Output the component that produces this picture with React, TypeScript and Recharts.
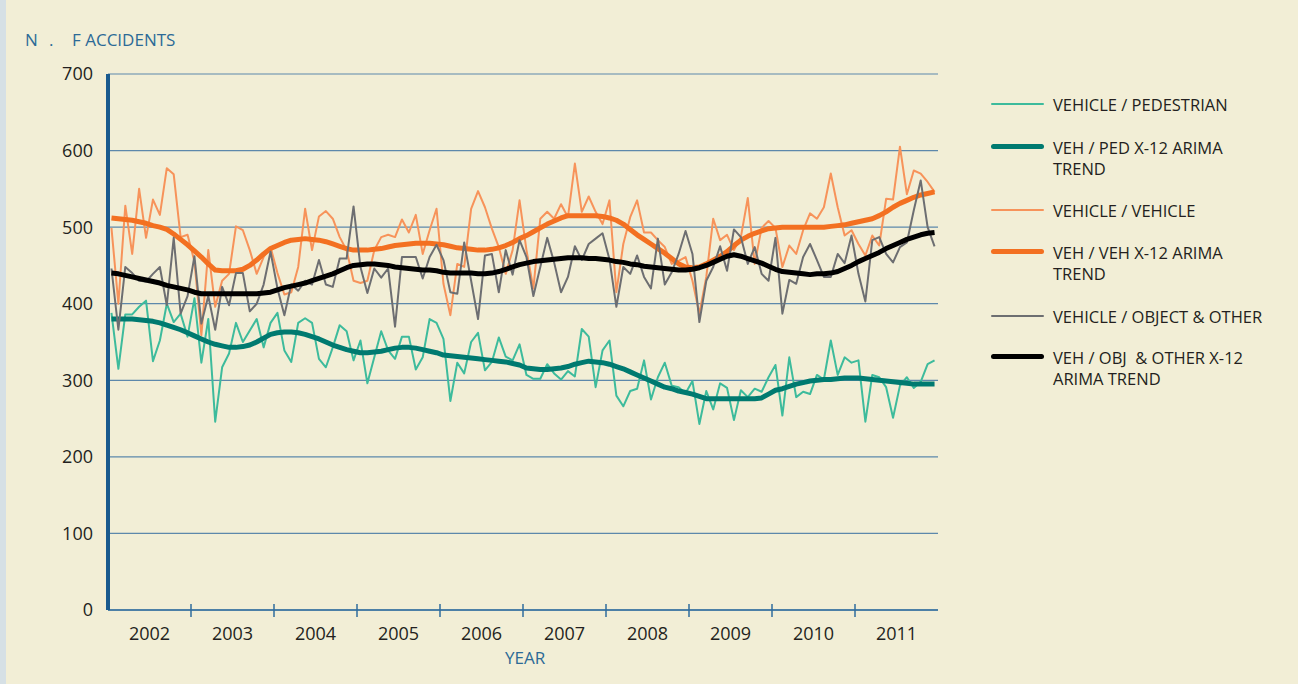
import React from 'react';
import { LineChart, Line, XAxis, YAxis, CartesianGrid } from 'recharts';

// monthly counts, Jan 2002 .. Dec 2011
const YEARS = ['2002', '2003', '2004', '2005', '2006', '2007', '2008', '2009', '2010', '2011'];
const Y_TICKS = [0, 100, 200, 300, 400, 500, 600, 700];

const vehPed = [
    388, 315, 386, 386, 396, 404, 325, 352, 400, 376, 387, 357,
    407, 323, 380, 246, 317, 335, 375, 350, 365, 380, 343, 375,
    388, 339, 324, 375, 381, 375, 328, 317, 343, 372, 364, 326,
    352, 296, 330, 364, 339, 328, 357, 357, 314, 330, 380, 375,
    354, 273, 323, 309, 350, 362, 313, 324, 356, 331, 326, 347,
    307, 302, 302, 321, 309, 301, 312, 305, 367, 357, 291, 339,
    352, 280, 266, 286, 289, 326, 275, 304, 323, 293, 291, 283,
    299, 243, 286, 262, 296, 290, 248, 287, 278, 289, 285, 304,
    320, 254, 330, 278, 285, 282, 307, 301, 352, 307, 330, 323,
    326, 246, 307, 304, 291, 251, 293, 304, 290, 298, 321, 326,
];

const vehPedTrend = [
    380, 380, 380, 380, 379, 378, 377, 375, 372, 369, 366, 362,
    358, 354, 350, 347, 345, 343, 343, 344, 346, 350, 355, 360,
    362, 363, 363, 362, 360, 357, 354, 350, 346, 343, 340, 338,
    336, 336, 337, 338, 340, 342, 343, 343, 342, 340, 338, 336,
    333, 332, 331, 330, 329, 328, 327, 326, 325, 324, 322, 320,
    316, 315, 314, 314, 315, 316, 318, 321, 323, 325, 324, 323,
    321, 318, 315, 311, 307, 303, 299, 295, 291, 289, 286, 284,
    282, 279, 276, 276, 276, 276, 276, 276, 276, 276, 277, 282,
    287, 289, 292, 295, 297, 299, 300, 301, 301, 302, 303, 303,
    303, 302, 301, 300, 299, 298, 297, 296, 295, 295, 295, 295,
];

const vehVeh = [
    499, 400, 528, 465, 550, 486, 536, 516, 577, 569, 487, 490,
    455, 359, 470, 396, 430, 439, 501, 496, 470, 439, 461, 474,
    440, 412, 415, 448, 524, 470, 514, 521, 511, 487, 470, 430,
    427, 430, 470, 487, 490, 487, 510, 493, 516, 465, 496, 524,
    426, 385, 452, 448, 524, 547, 526, 498, 474, 439, 470, 535,
    470, 420, 511, 520, 511, 530, 513, 583, 520, 540, 520, 504,
    535, 415, 478, 513, 535, 493, 493, 483, 474, 452, 456, 461,
    430, 387, 435, 511, 483, 490, 470, 487, 538, 452, 499, 508,
    499, 448, 476, 465, 496, 518, 511, 526, 570, 526, 489, 496,
    478, 463, 489, 476, 537, 536, 605, 543, 574, 570, 559, 546,
];

const vehVehTrend = [
    512, 511, 510, 509, 507, 505, 502, 500, 497, 491, 484, 477,
    469, 461, 452, 444, 443, 443, 443, 445, 450, 457, 465, 472,
    476, 480, 483, 484, 485, 484, 483, 481, 478, 475, 472, 470,
    470, 470, 471, 472, 474, 476, 477, 478, 479, 479, 479, 478,
    477, 475, 473, 472, 471, 470, 470, 471, 473, 476, 480, 485,
    489, 494, 499, 504, 508, 512, 515, 515, 515, 515, 515, 514,
    512, 509, 504, 497, 490, 484, 478, 472, 466, 459, 452, 448,
    447, 448, 452, 457, 462, 468, 476, 483, 488, 492, 495, 498,
    499, 500, 500, 500, 500, 500, 500, 500, 501, 502, 503, 505,
    507, 509, 511, 515, 520, 526, 531, 535, 539, 542, 544, 546,
];

const vehObj = [
    446, 366, 448, 440, 430, 429, 439, 448, 398, 486, 387, 410,
    462, 374, 410, 366, 422, 398, 440, 440, 390, 400, 425, 468,
    420, 385, 425, 417, 430, 425, 457, 425, 422, 459, 459, 527,
    448, 414, 446, 434, 446, 370, 461, 461, 461, 433, 461, 477,
    457, 415, 413, 480, 430, 380, 463, 465, 415, 470, 438, 483,
    461, 410, 448, 486, 454, 415, 435, 475, 457, 478, 485, 492,
    458, 396, 448, 439, 463, 435, 420, 485, 425, 441, 465, 495,
    465, 376, 430, 448, 475, 443, 497, 487, 452, 474, 439, 430,
    486, 387, 431, 426, 461, 478, 457, 435, 435, 465, 453, 489,
    439, 403, 483, 487, 465, 454, 474, 480, 522, 561, 500, 475,
];

const vehObjTrend = [
    440, 439, 437, 435, 433, 431, 429, 427, 424, 422, 420, 418,
    415, 413, 413, 413, 413, 413, 413, 413, 413, 413, 414, 415,
    418, 421, 423, 425, 427, 430, 433, 436, 439, 443, 447, 450,
    451, 452, 452, 451, 450, 448, 447, 446, 445, 444, 444, 443,
    441, 440, 440, 440, 440, 439, 439, 440, 442, 445, 448, 451,
    453, 455, 456, 457, 458, 459, 460, 460, 460, 459, 459, 458,
    457, 455, 454, 452, 451, 449, 448, 447, 446, 445, 444, 444,
    445, 447, 450, 454, 458, 462, 464, 462, 459, 456, 453, 449,
    445, 442, 441, 440, 439, 438, 439, 439, 440, 442, 446, 450,
    455, 459, 463, 467, 472, 476, 480, 484, 487, 490, 492, 493,
];

const SERIES = [
    { key: 'ped', name: 'VEHICLE / PEDESTRIAN', color: '#3dbb9c', width: 2 },
    { key: 'pedTrend', name: 'VEH / PED X-12 ARIMA TREND', color: '#007a70', width: 5 },
    { key: 'veh', name: 'VEHICLE / VEHICLE', color: '#f7935a', width: 2 },
    { key: 'vehTrend', name: 'VEH / VEH X-12 ARIMA TREND', color: '#f37021', width: 5 },
    { key: 'obj', name: 'VEHICLE / OBJECT & OTHER', color: '#6d6e71', width: 2 },
    { key: 'objTrend', name: 'VEH / OBJ  & OTHER X-12 ARIMA TREND', color: '#000000', width: 5 },
];

const data = vehPed.map((v, i) => ({
    m: i,
    ped: v,
    pedTrend: vehPedTrend[i],
    veh: vehVeh[i],
    vehTrend: vehVehTrend[i],
    obj: vehObj[i],
    objTrend: vehObjTrend[i],
}));

const W = 1298;
const H = 684;
const PLOT_LEFT = 108;
const PLOT_RIGHT = 938;
const MONTHS = 120;
const HALF_YEAR = ((PLOT_RIGHT - PLOT_LEFT) / MONTHS) * 6;
const FONT = '"Open Sans", "Noto Sans", sans-serif';
const AXIS_BLUE = '#2f6c9c';
const TITLE_BLUE = '#2c6a96';

const YearTick = ({ x, y, index }: any) => (
    <g>
        <text x={x} y={y + 22} textAnchor="middle" fontSize={18} fontFamily={FONT} fill="#231f20">
            {YEARS[index]}
        </text>
        {index < YEARS.length - 1 && (
            <line x1={x + HALF_YEAR} x2={x + HALF_YEAR} y1={y - 14} y2={y - 1} stroke={AXIS_BLUE} strokeWidth={1.5} />
        )}
    </g>
);

// y of the first text line of each legend entry
const LEGEND_ROWS = [94, 137, 200, 242, 306, 347];

const ChartLegend = () => (
    <div style={{ position: 'absolute', left: 991, top: 0, width: 300, fontFamily: FONT }}>
        {SERIES.map((s, i) => (
            <div key={s.key} style={{ position: 'absolute', left: 0, top: LEGEND_ROWS[i] }}>
                <div style={{
                    position: 'absolute', left: 0, top: 10.5 - s.width / 2 - 1,
                    width: 53, height: s.width, background: s.color, borderRadius: s.width,
                }} />
                <div style={{
                    position: 'absolute', left: 62, top: 0, width: 215,
                    fontSize: 16.5, lineHeight: '21px', color: '#231f20', whiteSpace: 'pre-wrap',
                }}>
                    {s.name}
                </div>
            </div>
        ))}
    </div>
);

const App: React.FC = () => {
    return (
        <div style={{
            position: 'fixed', left: 0, top: 0, width: W, height: H,
            background: '#f2eed6', overflow: 'hidden',
        }}>
            <div style={{ position: 'absolute', left: 0, top: 0, width: 6, height: H, background: '#d6e0e5' }} />
            <div style={{
                position: 'absolute', left: 25, top: 28, height: 24, fontFamily: FONT, fontSize: 17,
                color: TITLE_BLUE, whiteSpace: 'pre',
            }}>
                <span style={{ position: 'absolute', left: 0 }}>N</span>
                <span style={{ position: 'absolute', left: 24 }}>.</span>
                <span style={{ position: 'absolute', left: 47 }}>F ACCIDENTS</span>
            </div>
            <div style={{
                position: 'absolute', left: 505, top: 646, fontFamily: FONT, fontSize: 17,
                color: TITLE_BLUE,
            }}>
                YEAR
            </div>
            <div style={{ position: 'absolute', left: 0, top: 0 }}>
                <LineChart width={W} height={H} data={data} margin={{ top: 74, right: 360, left: 0, bottom: 44 }}>
                    <CartesianGrid horizontal vertical={false} stroke="#5d88ab" strokeWidth={1.2} />
                    <XAxis
                        dataKey="m"
                        type="number"
                        domain={[-0.5, 119.5]}
                        ticks={YEARS.map((_, i) => i * 12 + 5.5)}
                        interval={0}
                        height={30}
                        tickLine={false}
                        tickSize={6}
                        tickMargin={2}
                        axisLine={{ stroke: AXIS_BLUE, strokeWidth: 1.5 }}
                        tick={(props: any) => <YearTick {...props} />}
                    />
                    <YAxis
                        type="number"
                        domain={[0, 700]}
                        ticks={Y_TICKS}
                        width={PLOT_LEFT}
                        tickLine={false}
                        tickSize={6}
                        tickMargin={9}
                        axisLine={{ stroke: '#1a5a8e', strokeWidth: 4 }}
                        tick={{ fontSize: 18, fontFamily: FONT, fill: '#231f20' }}
                    />
                    {SERIES.map((s) => (
                        <Line
                            key={s.key}
                            type="linear"
                            dataKey={s.key}
                            name={s.name}
                            stroke={s.color}
                            strokeWidth={s.width}
                            strokeLinejoin="round"
                            dot={false}
                            activeDot={false}
                            isAnimationActive={false}
                        />
                    ))}
                </LineChart>
            </div>
            <ChartLegend />
        </div>
    );
};

export default App;
